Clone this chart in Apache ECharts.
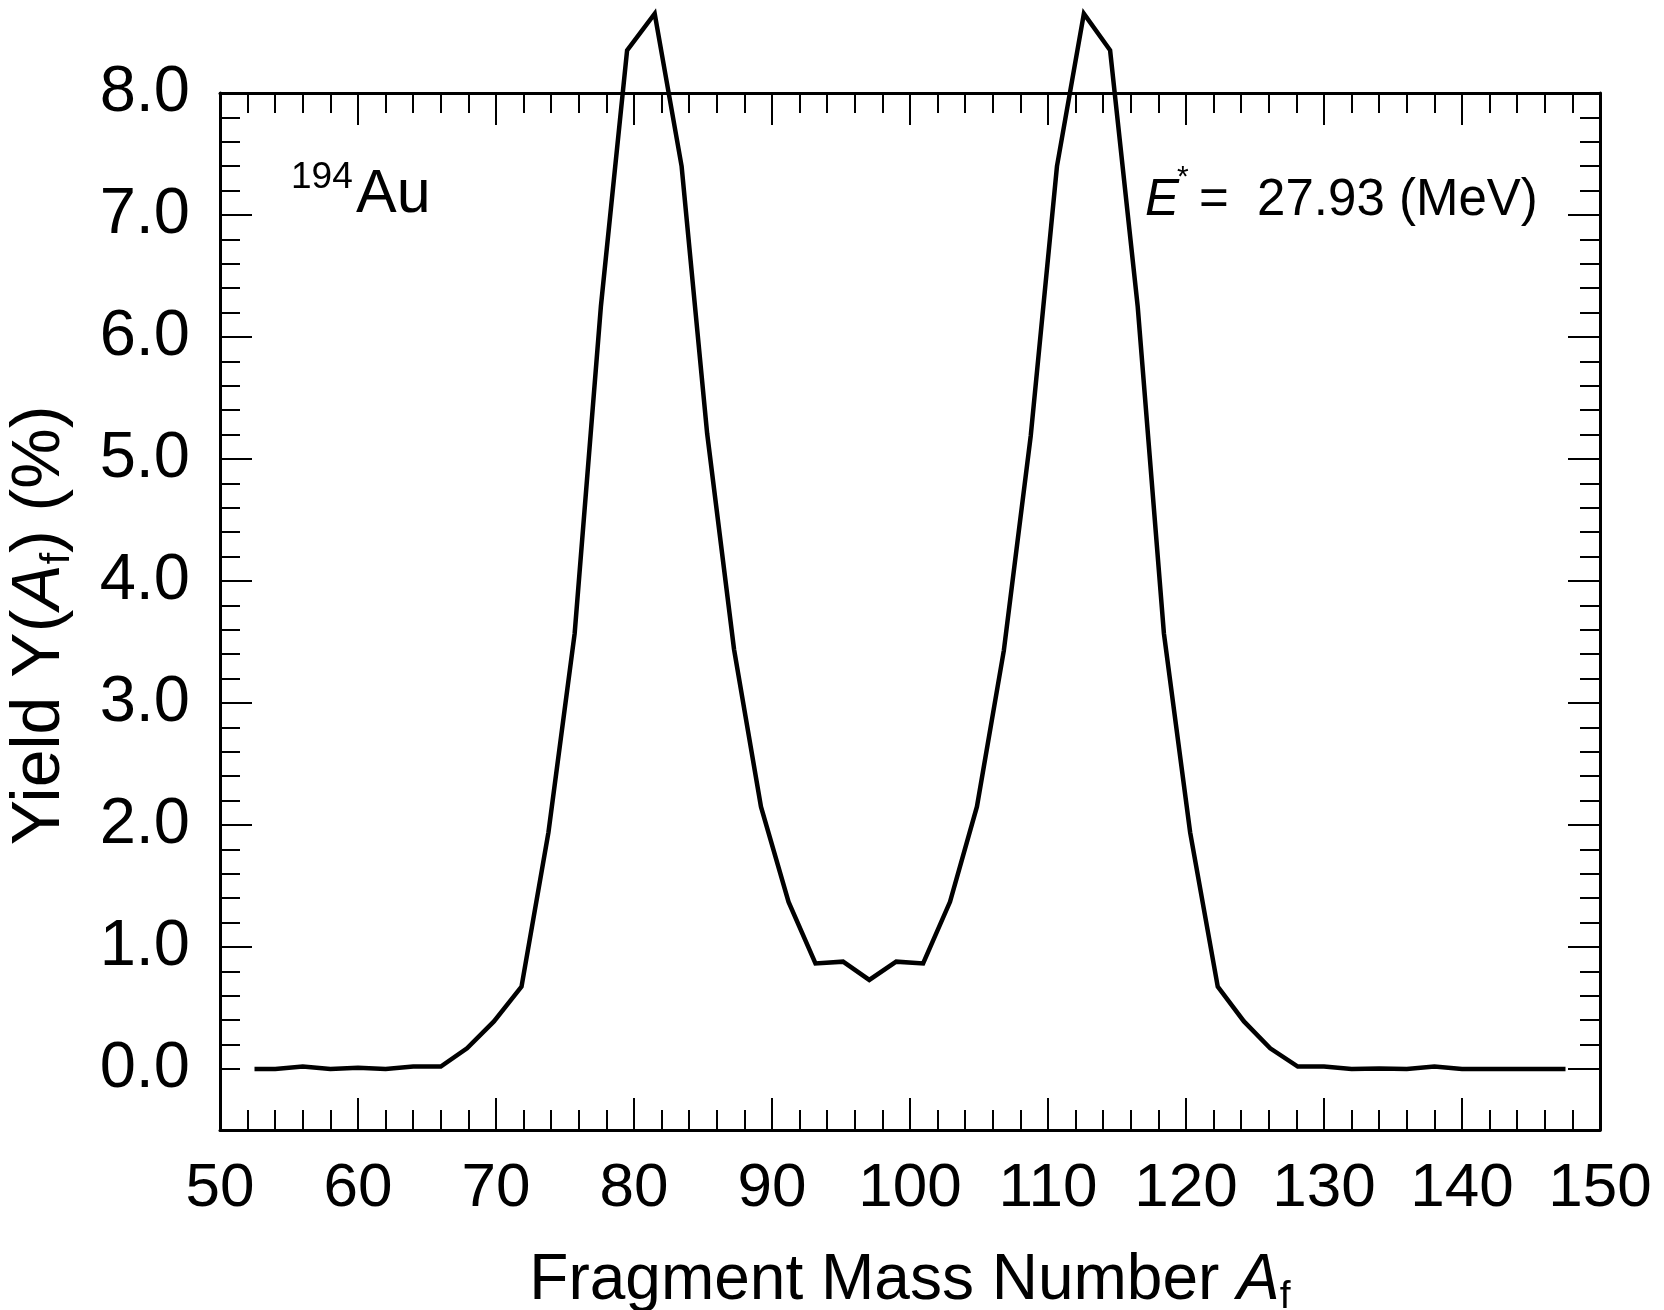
<!DOCTYPE html>
<html>
<head>
<meta charset="utf-8">
<script src="https://cdn.jsdelivr.net/npm/echarts@6/dist/echarts.min.js"></script>
<style>
  html, body { margin: 0; padding: 0; background: #ffffff; }
  #chart { width: 1664px; height: 1310px; }
</style>
</head>
<body>
<div id="chart"></div>
<script>
// Fragment mass number A_f (x) and yield Y(A_f) in % (y)
const massNumber = [52.5, 54, 56, 58, 60, 62, 64, 66, 67.9, 69.85, 71.85, 73.8, 75.7, 77.6, 79.5, 81.5, 83.45, 85.3, 87.25, 89.2, 91.2, 93.15, 95.15, 97.05, 99.0, 100.95, 102.9, 104.85, 106.8, 108.75, 110.65, 112.6, 114.5, 116.5, 118.4, 120.3, 122.3, 124.2, 126.1, 128.1, 130, 132, 134, 136, 138, 140, 142, 144, 146, 147.5];
const yieldPct   = [0, 0, 0.02, 0, 0.01, 0, 0.02, 0.02, 0.17, 0.39, 0.675, 1.94, 3.57, 6.25, 8.35, 8.65, 7.40, 5.21, 3.44, 2.15, 1.37, 0.865, 0.88, 0.73, 0.88, 0.865, 1.37, 2.15, 3.43, 5.19, 7.40, 8.65, 8.35, 6.25, 3.57, 1.94, 0.675, 0.39, 0.17, 0.02, 0.02, 0, 0.005, 0, 0.02, 0, 0, 0, 0, 0];

// Axis tick values
const yLabelValues = [0, 1, 2, 3, 4, 5, 6, 7, 8];
const yMajorTicksLeft = [1, 2, 3, 4, 5, 6, 7, 8];
const yMajorTicksRight = [0, 1, 2, 3, 4, 5, 6, 7, 8];
const yMinorTicksRight = [];
for (let i = 0; i <= 40; i++) { if (i % 5 !== 0) yMinorTicksRight.push(+(i * 0.2).toFixed(1)); }
const yMinorTicksLeft = [0].concat(yMinorTicksRight);

const nucleusMass = '194';
const nucleusSymbol = 'Au';
const excitationEnergy = '27.93';

const FONT = '"Liberation Sans", Arial, Helvetica, sans-serif';
const BLACK = '#000000';

const lineData = massNumber.map((x, i) => [x, yieldPct[i]]);

const chart = echarts.init(document.getElementById('chart'), null, { renderer: 'canvas' });

function xAxisDef(pos, showLabel) {
  return {
    type: 'value', position: pos, gridIndex: 0,
    min: 50, max: 150, interval: 10,
    name: showLabel ? '{n|Fragment Mass Number }{i|A}{s|f}' : '',
    nameLocation: 'middle', nameGap: 115,
    nameTextStyle: {
      rich: {
        n: { fontFamily: FONT, fontSize: 64, color: BLACK, lineHeight: 64 },
        i: { fontFamily: FONT, fontSize: 64, color: BLACK, fontStyle: 'italic', lineHeight: 64 },
        s: { fontFamily: FONT, fontSize: 39, color: BLACK, lineHeight: 72, verticalAlign: 'bottom' }
      }
    },
    axisLine: { show: true, onZero: false, lineStyle: { color: BLACK, width: 3 } },
    axisTick: { show: true, inside: true, length: 32, lineStyle: { color: BLACK, width: 2 } },
    minorTick: { show: true, splitNumber: 5, length: 20, lineStyle: { color: BLACK, width: 2 } },
    axisLabel: { show: showLabel, fontFamily: FONT, fontSize: 62, color: BLACK, margin: 28 },
    splitLine: { show: false }, minorSplitLine: { show: false }
  };
}

function yAxisDef(pos, major, tickValues, showLabel) {
  return {
    type: 'value', position: pos, gridIndex: 0,
    min: -0.5, max: 8,
    name: showLabel ? '{n|Yield Y(}{i|A}{s|f}{n|) (%)}' : '',
    nameLocation: 'middle', nameGap: 142, nameRotate: 90,
    nameTextStyle: {
      padding: [0, 28, 0, 0],
      rich: {
        n: { fontFamily: FONT, fontSize: 68, color: BLACK, lineHeight: 68 },
        i: { fontFamily: FONT, fontSize: 68, color: BLACK, fontStyle: 'italic', lineHeight: 68 },
        s: { fontFamily: FONT, fontSize: 41, color: BLACK, lineHeight: 75, verticalAlign: 'bottom' }
      }
    },
    axisLine: { show: major, onZero: false, lineStyle: { color: BLACK, width: 3 } },
    axisTick: { show: true, inside: true, length: major ? 32 : 20,
      customValues: tickValues,
      lineStyle: { color: BLACK, width: 2 } },
    axisLabel: { show: showLabel, customValues: yLabelValues, fontFamily: FONT, fontSize: 65, color: BLACK, margin: 30,
      formatter: v => v.toFixed(1) },
    splitLine: { show: false }
  };
}

const option = {
  backgroundColor: '#ffffff',
  animation: false,
  grid: { left: 220, top: 93, width: 1380, height: 1037, outerBoundsMode: 'none', containLabel: false },
  xAxis: [xAxisDef('bottom', true), xAxisDef('top', false)],
  yAxis: [
    yAxisDef('left', true, yMajorTicksLeft, true),
    yAxisDef('left', false, yMinorTicksLeft, false),
    yAxisDef('right', true, yMajorTicksRight, false),
    yAxisDef('right', false, yMinorTicksRight, false)
  ],
  series: [{
    type: 'line', xAxisIndex: 0, yAxisIndex: 0,
    data: lineData, showSymbol: false, symbol: 'none', clip: false,
    lineStyle: { color: BLACK, width: 4.5, join: 'miter', cap: 'butt', miterLimit: 20 }
  }],
  graphic: [
    { type: 'text', x: 291, y: 159, style: { text: nucleusMass, font: '37px ' + FONT, fill: BLACK, align: 'left', verticalAlign: 'top' } },
    { type: 'text', x: 356, y: 165, style: { text: nucleusSymbol, font: '61px ' + FONT, fill: BLACK, align: 'left', verticalAlign: 'top' } },
    { type: 'text', x: 1145, y: 175, style: { text: 'E', font: 'italic 51px ' + FONT, fill: BLACK, align: 'left', verticalAlign: 'top' } },
    { type: 'text', x: 1177, y: 163, style: { text: '*', font: '30px ' + FONT, fill: BLACK, align: 'left', verticalAlign: 'top' } },
    { type: 'text', x: 1199, y: 175, style: { text: '=  ' + excitationEnergy + ' (MeV)', font: '51px ' + FONT, fill: BLACK, align: 'left', verticalAlign: 'top' } }
  ]
};

chart.setOption(option);
</script>
</body>
</html>
